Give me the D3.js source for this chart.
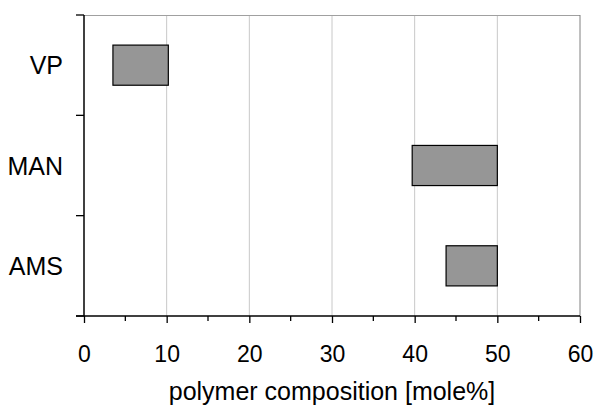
<!DOCTYPE html>
<html>
<head>
<meta charset="utf-8">
<script src="https://cdn.jsdelivr.net/npm/d3@7"></script>
<style>
  body { margin: 0; background: #fff; }
  text { font-family: "Liberation Sans", Arial, sans-serif; fill: #000; }
</style>
</head>
<body>
<div id="chart"></div>
<script>
// monomers and composition ranges [mole%]
var categories = ["VP", "MAN", "AMS"];
var range_lo = [3.5, 39.7, 43.8];
var range_hi = [10.2, 50, 50];
var x_ticks = [0, 10, 20, 30, 40, 50, 60];

var width = 600, height = 410;
var margin = {top: 15, right: 20, bottom: 94, left: 84};
var w = width - margin.left - margin.right,
    h = height - margin.top - margin.bottom;

var svg = d3.select("#chart").append("svg")
    .attr("width", width)
    .attr("height", height);

var g = svg.append("g")
    .attr("transform", "translate(" + margin.left + "," + margin.top + ")");

var x = d3.scaleLinear().domain([0, 60]).range([0, w]);
var y = d3.scaleBand().domain(categories).range([0, h]).paddingInner(0).paddingOuter(0);

// grid
g.selectAll("line.grid")
    .data(x_ticks.slice(1, -1))
    .enter().append("line")
    .attr("class", "grid")
    .attr("x1", function(d) { return x(d); })
    .attr("x2", function(d) { return x(d); })
    .attr("y1", 0).attr("y2", h)
    .attr("stroke", "#c8c8c8")
    .attr("stroke-width", 1);

// top and right frame
g.append("line").attr("x1", 0).attr("x2", w).attr("y1", 0.5).attr("y2", 0.5)
    .attr("stroke", "#a0a0a0");
g.append("line").attr("x1", w).attr("x2", w).attr("y1", 0).attr("y2", h)
    .attr("stroke", "#808080");

// bars
var bh = y.bandwidth() * 0.4;
g.selectAll("rect.bar")
    .data(categories)
    .enter().append("rect")
    .attr("class", "bar")
    .attr("x", function(d, i) { return x(range_lo[i]); })
    .attr("width", function(d, i) { return x(range_hi[i]) - x(range_lo[i]); })
    .attr("y", function(d) { return y(d) + (y.bandwidth() - bh) / 2; })
    .attr("height", bh)
    .attr("fill", "#969696")
    .attr("stroke", "#000")
    .attr("stroke-width", 1.2);

// x axis
var xAxis = g.append("g")
    .attr("transform", "translate(0," + h + ")")
    .call(d3.axisBottom(x).tickValues(x_ticks).tickSize(7).tickPadding(23).tickFormat(d3.format("d")));
xAxis.select(".domain").attr("stroke-width", 1.5).attr("d", "M-8,0H" + w);
xAxis.selectAll(".tick line").attr("stroke-width", 1.3);
xAxis.selectAll("text").style("font-size", "23px");

// minor ticks
g.selectAll("line.minor")
    .data(d3.range(5, 60, 10))
    .enter().append("line")
    .attr("class", "minor")
    .attr("x1", function(d) { return x(d); })
    .attr("x2", function(d) { return x(d); })
    .attr("y1", h).attr("y2", h + 5)
    .attr("stroke", "#000").attr("stroke-width", 1.3);

// y axis: boundary ticks between categories
var yAxis = g.append("g");
yAxis.append("line")
    .attr("x1", 0).attr("x2", 0).attr("y1", 0).attr("y2", h)
    .attr("stroke", "#000").attr("stroke-width", 1.5);
var bounds = categories.map(function(d) { return y(d); }).concat([h]);
yAxis.selectAll("line.ytick")
    .data(bounds)
    .enter().append("line")
    .attr("class", "ytick")
    .attr("x1", -8).attr("x2", 0)
    .attr("y1", function(d) { return d; })
    .attr("y2", function(d) { return d; })
    .attr("stroke", "#000").attr("stroke-width", 1.3);
yAxis.selectAll("text")
    .data(categories)
    .enter().append("text")
    .attr("x", -21)
    .attr("y", function(d) { return y(d) + y.bandwidth() / 2; })
    .attr("dy", "0.36em")
    .attr("text-anchor", "end")
    .style("font-size", "25px")
    .text(function(d) { return d; });

// axis title
svg.append("text")
    .attr("x", margin.left + w / 2)
    .attr("y", 400)
    .attr("text-anchor", "middle")
    .style("font-size", "25px")
    .text("polymer composition [mole%]");
</script>
</body>
</html>
